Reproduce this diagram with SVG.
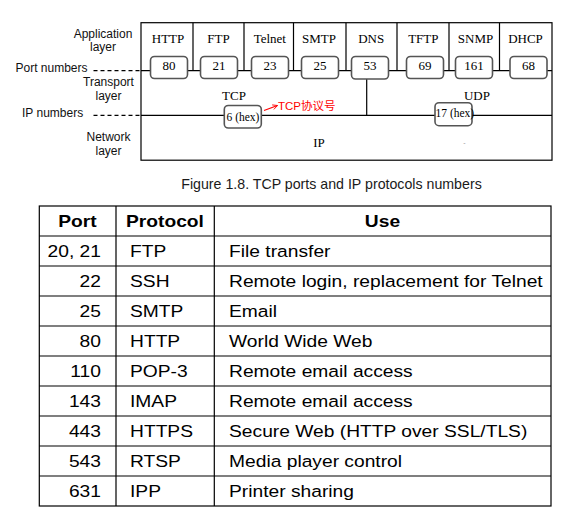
<svg xmlns="http://www.w3.org/2000/svg" width="573" height="529" viewBox="0 0 573 529">
<style>
.lbl{font-family:"Liberation Sans",Arial,sans-serif;font-size:12px;fill:#111;text-anchor:middle}
.lbl-l{font-family:"Liberation Sans",Arial,sans-serif;font-size:12px;fill:#111}
.ser{font-family:"Liberation Serif","Times New Roman",serif;font-size:13px;fill:#000;text-anchor:middle}
.hex{font-family:"Liberation Serif","Times New Roman",serif;font-size:11.5px;fill:#000}
.pbox{fill:#fff;stroke:#555;stroke-width:1.6}
.ln{stroke:#000;stroke-width:1.2;fill:none}
.dash{stroke:#000;stroke-width:1.2;stroke-dasharray:4 3;fill:none}
.red{font-family:"Liberation Sans","Noto Sans CJK SC",sans-serif;font-size:11.5px;fill:#f00}
.cap{font-family:"Liberation Sans",Arial,sans-serif;font-size:14.2px;fill:#1a1a1a;text-anchor:middle}
.tl{stroke:#000;stroke-width:1.2;fill:none}
.th{font-family:"Liberation Sans",Arial,Helvetica,sans-serif;font-size:16.5px;font-weight:bold;fill:#000;text-anchor:middle}
.td{font-family:"Liberation Sans",Arial,Helvetica,sans-serif;font-size:16.5px;fill:#000}
.num{text-anchor:end}
</style>
<defs>
<marker id="arr" viewBox="0 0 10 10" refX="9" refY="5" markerWidth="6" markerHeight="6" orient="auto" markerUnits="userSpaceOnUse">
<path d="M1,1 L9,5 L1,9" fill="none" stroke="#f00" stroke-width="1.4"/>
</marker>
</defs>

<!-- layer frame -->
<g id="layers">
<rect x="141" y="22.7" width="411" height="137.5" class="ln"/>
<path class="ln" d="M193,22.7V70.7 M244,22.7V70.7 M293.5,22.7V70.7 M346,22.7V70.7 M397,22.7V70.7 M449,22.7V70.7 M499.5,22.7V70.7"/>
</g>

<!-- left labels -->
<g id="left-labels">
<text class="lbl" x="103" y="37.5">Application</text>
<text class="lbl" x="103" y="51">layer</text>
<text class="lbl-l" x="15.5" y="72">Port numbers</text>
<text class="lbl" x="108.5" y="86">Transport</text>
<text class="lbl" x="108.5" y="99.5">layer</text>
<text class="lbl-l" x="22" y="117">IP numbers</text>
<text class="lbl" x="108.5" y="140.5">Network</text>
<text class="lbl" x="108.5" y="154.5">layer</text>
</g>

<!-- connectors -->
<g id="connectors">
<path class="dash" d="M93.5,70.7H141"/>
<path class="dash" d="M93.5,115.3H141"/>
<path class="ln" d="M141,70.7H552"/>
<path class="ln" d="M141,115.3H552"/>
<path class="ln" d="M366.7,79V115.3"/>
<path d="M264,110.5 L277.5,105.5" stroke="#f00" stroke-width="1.2" fill="none" marker-end="url(#arr)"/>
</g>

<!-- application protocols -->
<g id="app-HTTP"><text class="ser" x="168" y="43">HTTP</text></g>
<g id="app-FTP"><text class="ser" x="218.5" y="43">FTP</text></g>
<g id="app-Telnet"><text class="ser" x="269.8" y="43">Telnet</text></g>
<g id="app-SMTP"><text class="ser" x="319" y="43">SMTP</text></g>
<g id="app-DNS"><text class="ser" x="371.2" y="43">DNS</text></g>
<g id="app-TFTP"><text class="ser" x="423.3" y="43">TFTP</text></g>
<g id="app-SNMP"><text class="ser" x="475.5" y="43">SNMP</text></g>
<g id="app-DHCP"><text class="ser" x="525.5" y="43">DHCP</text></g>

<!-- port boxes -->
<g id="port-80"><rect class="pbox" x="150.5" y="56.5" width="37" height="22" rx="4"/><text class="ser" x="169" y="70">80</text></g>
<g id="port-21"><rect class="pbox" x="200.5" y="56.5" width="37" height="22" rx="4"/><text class="ser" x="219" y="70">21</text></g>
<g id="port-23"><rect class="pbox" x="251.5" y="56.5" width="37" height="22" rx="4"/><text class="ser" x="270" y="70">23</text></g>
<g id="port-25"><rect class="pbox" x="301.5" y="56.5" width="37" height="22" rx="4"/><text class="ser" x="320" y="70">25</text></g>
<g id="port-53"><rect class="pbox" x="351.5" y="56.5" width="37" height="22.5" rx="4"/><text class="ser" x="370" y="70">53</text></g>
<g id="port-69"><rect class="pbox" x="406.5" y="56.5" width="37" height="22" rx="4"/><text class="ser" x="425" y="70">69</text></g>
<g id="port-161"><rect class="pbox" x="455.5" y="56.5" width="37" height="22" rx="4"/><text class="ser" x="474" y="70">161</text></g>
<g id="port-68"><rect class="pbox" x="510" y="56.5" width="37" height="22" rx="4"/><text class="ser" x="528.5" y="70">68</text></g>

<!-- transport -->
<g id="tcp">
<text class="ser" x="234" y="100">TCP</text>
<rect class="pbox" x="224.3" y="105.5" width="37" height="22.5" rx="4"/>
<text class="hex" x="226.5" y="121">6 (hex)</text>
</g>
<g id="tcp-note"><text class="red" x="278" y="110">TCP协议号</text></g>
<g id="udp">
<text class="ser" x="477" y="100">UDP</text>
<rect class="pbox" x="435" y="102.7" width="37" height="23" rx="4"/>
<text class="hex" x="435.5" y="116.5">17 (hex)</text>
</g>

<!-- network -->
<g id="ip">
<text class="ser" x="319" y="147">IP</text>
<text x="464.5" y="145" font-family="Liberation Sans,sans-serif" font-size="7" fill="#999" text-anchor="middle">-</text>
</g>

<!-- caption -->
<g id="caption"><text class="cap" x="331.5" y="189">Figure 1.8. TCP ports and IP protocols numbers</text></g>

<!-- table -->
<g id="table">
<rect x="39.3" y="206" width="511.7" height="300" class="tl"/>
<path class="tl" d="M116,206V506 M214.3,206V506 M39.3,236H551 M39.3,266H551 M39.3,296H551 M39.3,326H551 M39.3,356H551 M39.3,386H551 M39.3,416H551 M39.3,446H551 M39.3,476H551"/>
<g transform="scale(1.165,1)">
<text class="th" x="66.5" y="227">Port</text>
<text class="th" x="141.6" y="227">Protocol</text>
<text class="th" x="328.3" y="227">Use</text>

<text class="td num" x="86.7" y="257">20, 21</text>
<text class="td" x="111.6" y="257">FTP</text>
<text class="td" x="196.6" y="257">File transfer</text>

<text class="td num" x="86.7" y="287">22</text>
<text class="td" x="111.6" y="287">SSH</text>
<text class="td" x="196.6" y="287">Remote login, replacement for Telnet</text>

<text class="td num" x="86.7" y="317">25</text>
<text class="td" x="111.6" y="317">SMTP</text>
<text class="td" x="196.6" y="317">Email</text>

<text class="td num" x="86.7" y="347">80</text>
<text class="td" x="111.6" y="347">HTTP</text>
<text class="td" x="196.6" y="347">World Wide Web</text>

<text class="td num" x="86.7" y="377">110</text>
<text class="td" x="111.6" y="377">POP-3</text>
<text class="td" x="196.6" y="377">Remote email access</text>

<text class="td num" x="86.7" y="407">143</text>
<text class="td" x="111.6" y="407">IMAP</text>
<text class="td" x="196.6" y="407">Remote email access</text>

<text class="td num" x="86.7" y="437">443</text>
<text class="td" x="111.6" y="437">HTTPS</text>
<text class="td" x="196.6" y="437">Secure Web (HTTP over SSL/TLS)</text>

<text class="td num" x="86.7" y="467">543</text>
<text class="td" x="111.6" y="467">RTSP</text>
<text class="td" x="196.6" y="467">Media player control</text>

<text class="td num" x="86.7" y="497">631</text>
<text class="td" x="111.6" y="497">IPP</text>
<text class="td" x="196.6" y="497">Printer sharing</text>
</g>
</g>
</svg>
